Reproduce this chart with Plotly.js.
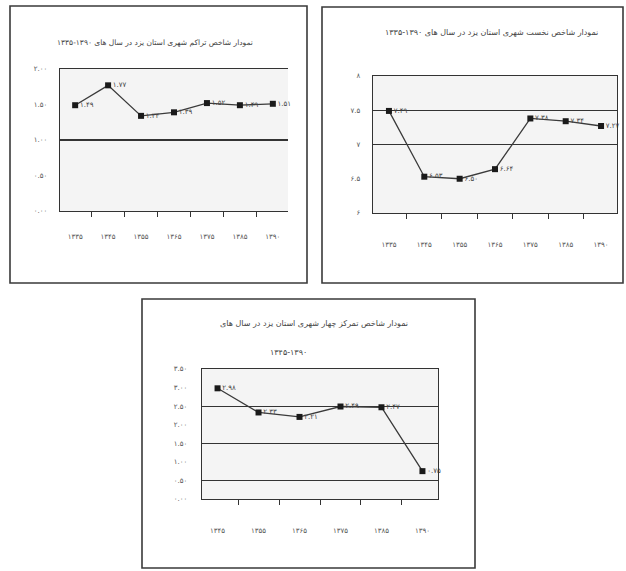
<!DOCTYPE html>
<html><head><meta charset="utf-8">
<script src="https://cdn.plot.ly/plotly-3.0.1.min.js"></script>
<style>html,body{margin:0;padding:0;background:#fff}</style>
</head><body><div id="chart" style="width:626px;height:571px"></div>
<script>
// ---- data ----
const yearsA = ['۱۳۳۵','۱۳۴۵','۱۳۵۵','۱۳۶۵','۱۳۷۵','۱۳۸۵','۱۳۹۰'];
const valuesA = [1.49, 1.77, 1.34, 1.39, 1.52, 1.49, 1.51];
const yearsB = ['۱۳۳۵','۱۳۴۵','۱۳۵۵','۱۳۶۵','۱۳۷۵','۱۳۸۵','۱۳۹۰'];
const valuesB = [7.49, 6.53, 6.50, 6.64, 7.38, 7.34, 7.27];
const yearsC = ['۱۳۴۵','۱۳۵۵','۱۳۶۵','۱۳۷۵','۱۳۸۵','۱۳۹۰'];
const valuesC = [2.98, 2.33, 2.21, 2.49, 2.47, 0.75];

const titleA = 'نمودار شاخص تراکم شهری استان یزد در سال های ۱۳۹۰-۱۳۳۵';
const titleB = 'نمودار شاخص نخست شهری استان یزد در سال های ۱۳۹۰-۱۳۳۵';
const titleC1 = 'نمودار شاخص تمرکز چهار شهری استان یزد در سال های';
const titleC2 = '۱۳۴۵-۱۳۹۰';

const ticksA = [0, 0.5, 1, 1.5, 2];
const gridA = [1, 2];
const ticksB = [6, 6.5, 7, 7.5, 8];
const gridB = [7, 7.5];
const ticksC = [0, 0.5, 1, 1.5, 2, 2.5, 3, 3.5];
const gridC = [0.5, 1.5, 2.5, 3.5];

// ---- helpers ----
const FA = '۰۱۲۳۴۵۶۷۸۹';
const fa = s => String(s).replace(/[0-9]/g, d => FA[+d]);
const font = 'DejaVu Sans, sans-serif';
const W = 626, H = 571;
const px = x => x / W, py = y => 1 - y / H;

function series(xs, ys, xa, ya) {
  return {
    type: 'scatter', x: xs, y: ys, xaxis: xa, yaxis: ya,
    mode: 'lines+markers+text',
    line: {color: '#3a3a3a', width: 1.3},
    marker: {symbol: 'square', size: 6, color: '#1a1a1a'},
    text: ys.map(v => fa(v.toFixed(2))),
    textposition: 'middle right',
    textfont: {family: font, size: 7, color: '#444'},
    cliponaxis: false, hoverinfo: 'skip', showlegend: false
  };
}
function ghost(xs, ys, xa, ya) {
  return {type: 'scatter', x: xs, y: ys, xaxis: xa, yaxis: ya, mode: 'lines',
    line: {width: 0}, opacity: 0, hoverinfo: 'skip', showlegend: false};
}
function xax(dom, anchor, standoff) {
  return {domain: dom, anchor: anchor, type: 'category', showgrid: false,
    tickson: 'boundaries', ticks: 'outside', ticklen: 5, tickcolor: '#333', tickwidth: 1,
    showline: true, linecolor: '#333', linewidth: 1.3, mirror: true,
    ticklabelstandoff: standoff,
    tickfont: {family: font, size: 7, color: '#555'}, zeroline: false};
}
function yax(dom, anchor, range, tv, tt, mirror, standoff) {
  return {domain: dom, anchor: anchor, range: range, tickmode: 'array', tickvals: tv, ticktext: tt,
    showgrid: false, zeroline: false, showline: true, linecolor: '#333', linewidth: 1.3,
    mirror: mirror, ticks: '', ticklabelstandoff: standoff,
    tickfont: {family: font, size: 7, color: '#555'}};
}
function gax(over, anchor, range, gv) {
  return {overlaying: over, anchor: anchor, range: range, tickmode: 'array', tickvals: gv,
    showticklabels: false, showgrid: true, gridcolor: '#333', gridwidth: 1.1,
    zeroline: false, showline: false, ticks: ''};
}

const domXA = [px(60), px(288)], domYA = [py(211), py(69)];
const domXB = [px(373), px(617)], domYB = [py(213), py(76)];
const domXC = [px(202), px(438)], domYC = [py(499), py(369)];

const rangeA = [0, 2], rangeB = [6, 8], rangeC = [0, 3.5];

const data = [
  ghost(yearsA, valuesA, 'x', 'y4'),
  ghost(yearsB, valuesB, 'x2', 'y5'),
  ghost(yearsC, valuesC, 'x3', 'y6'),
  series(yearsA, valuesA, 'x', 'y'),
  series(yearsB, valuesB, 'x2', 'y2'),
  series(yearsC, valuesC, 'x3', 'y3')
];

const frame = (x0, y0, x1, y1) => ({type: 'rect', xref: 'paper', yref: 'paper',
  x0: px(x0), x1: px(x1), y0: py(y1), y1: py(y0), line: {color: '#3a3a3a', width: 1.6},
  fillcolor: 'rgba(0,0,0,0)', layer: 'below'});
const ann = (text, x, y, size) => ({text: text, xref: 'paper', yref: 'paper', x: px(x), y: py(y),
  xanchor: 'center', yanchor: 'middle', showarrow: false, font: {family: font, size: size, color: '#444'}});

const layout = {
  width: W, height: H, margin: {l: 0, r: 0, t: 0, b: 0},
  paper_bgcolor: '#ffffff', plot_bgcolor: '#f4f4f4', showlegend: false,
  xaxis: xax(domXA, 'y', 18),
  yaxis: yax(domYA, 'x', rangeA, ticksA, ticksA.map(v => fa(v.toFixed(2))), false, 10),
  yaxis4: gax('y', 'x', rangeA, gridA),
  xaxis2: xax(domXB, 'y2', 24),
  yaxis2: yax(domYB, 'x2', rangeB, ticksB, ticksB.map(v => fa(String(v))), true, 10),
  yaxis5: gax('y2', 'x2', rangeB, gridB),
  xaxis3: xax(domXC, 'y3', 24),
  yaxis3: yax(domYC, 'x3', rangeC, ticksC, ticksC.map(v => fa(v.toFixed(2))), true, 12),
  yaxis6: gax('y3', 'x3', rangeC, gridC),
  shapes: [frame(10, 6, 307, 283), frame(322, 7, 623, 283), frame(142, 299, 475, 568)],
  annotations: [
    ann(titleA, 155, 42, 7.5),
    ann(titleB, 491, 33, 8),
    ann(titleC1, 314, 323, 8),
    ann(titleC2, 288, 352, 8)
  ]
};
Plotly.newPlot('chart', data, layout, {staticPlot: true, displayModeBar: false});
</script></body></html>
